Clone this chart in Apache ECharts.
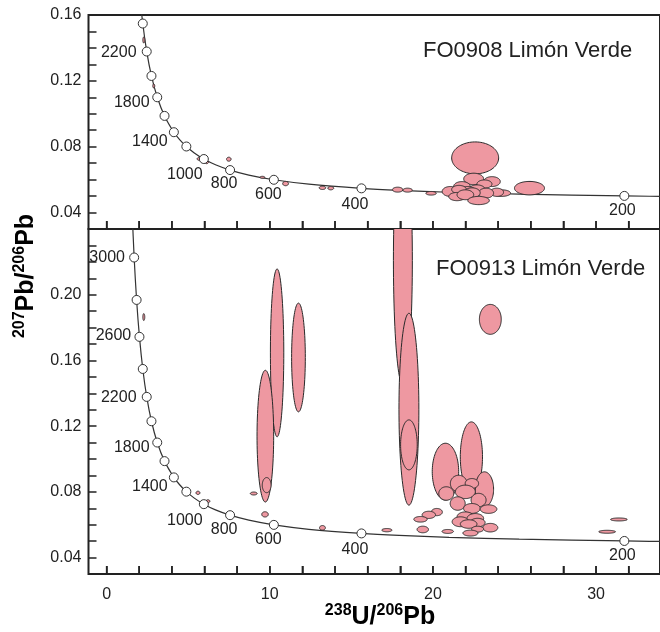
<!DOCTYPE html>
<html><head><meta charset="utf-8">
<script src="https://cdn.jsdelivr.net/npm/echarts@6/dist/echarts.min.js"></script>
<style>html,body{margin:0;padding:0;background:#fff}#c{width:660px;height:632px}</style>
</head><body><div id="c"></div>
<script>
// ---- Concordia (Tera-Wasserburg) curve values ----
const concordiaAge = [180,200,250,300,350,400,500,600,700,800,900,1000,1100,1200,1300,1400,1600,1800,2000,2200,2400,2600,2800,3000,3200];
const concordiaX = [35.316,31.735,25.289,20.992,17.923,15.621,12.399,10.252,8.718,7.568,6.674,5.960,5.375,4.888,4.476,4.123,3.550,3.104,2.749,2.459,2.217,2.013,1.838,1.688,1.556];
const concordiaY = [0.04968,0.05011,0.05120,0.05234,0.05350,0.05470,0.05722,0.05990,0.06276,0.06580,0.06904,0.07251,0.07619,0.08012,0.08432,0.08880,0.09871,0.11002,0.12298,0.13781,0.15481,0.17435,0.19683,0.22265,0.25242];
const markerAges = [200,400,600,800,1000,1200,1400,1600,1800,2000,2200,2400,2600,2800,3000];
const labelAgesTop = [200,400,600,800,1000,1400,1800,2200];
const labelAgesBottom = [200,400,600,800,1000,1400,1800,2200,2600,3000];

// ---- Axis ticks / labels ----
const xTicks = [0,2,4,6,8,10,12,14,16,18,20,22,24,26,28,30,32];
const xLabels = [0,10,20,30];
const yTicksTop = [0.04,0.05,0.06,0.07,0.08,0.09,0.10,0.11,0.12,0.13,0.14,0.15];
const yLabelsTop = [0.04,0.08,0.12,0.16];
const yTicksBottom = [0.04,0.05,0.06,0.07,0.08,0.09,0.10,0.11,0.12,0.13,0.14,0.15,0.16,0.17,0.18,0.19,0.20,0.21,0.22,0.23];
const yLabelsBottom = [0.04,0.08,0.12,0.16,0.20];

// ---- FO0908 error ellipses: centre (x, y) and half-axes (sx, sy) ----
const fo0908X  = [22.59,25.92,22.50,23.62,23.16,21.78,24.21,23.92,22.70,21.06,22.13,23.26,21.60,22.40,21.48,21.99,22.80,17.84,18.45,19.89,5.67,6.13,7.49,9.55,10.97,13.23,13.74,2.28,2.89];
const fo0908Y  = [0.0732,0.0548,0.0604,0.0588,0.0573,0.0558,0.0518,0.0523,0.0538,0.0528,0.0533,0.0518,0.0540,0.0520,0.0497,0.0508,0.0473,0.0539,0.0536,0.0517,0.0726,0.0706,0.0724,0.0614,0.0576,0.0550,0.0548,0.1448,0.1169];
const fo0908SX = [1.44,0.92,0.61,0.51,0.46,0.51,0.55,0.41,0.51,0.49,0.46,0.46,0.45,0.50,0.51,0.51,0.66,0.32,0.29,0.32,0.12,0.12,0.14,0.15,0.18,0.20,0.18,0.06,0.06];
const fo0908SY = [0.0097,0.0041,0.0035,0.0030,0.0025,0.0030,0.0020,0.0025,0.0030,0.0030,0.0025,0.0030,0.0025,0.0030,0.0025,0.0030,0.0025,0.0015,0.0012,0.0011,0.0009,0.0009,0.0012,0.0006,0.0013,0.0010,0.0010,0.0018,0.0012];

// ---- FO0913 error ellipses ----
const fo0913X  = [18.16,18.53,18.53,10.45,11.76,9.73,9.81,9.02,23.52,20.77,22.36,23.16,21.58,22.39,20.82,21.99,22.80,21.52,22.39,23.41,20.24,19.75,19.24,21.99,22.60,21.69,22.74,22.19,23.52,22.74,22.30,19.38,20.91,17.18,30.68,31.40,5.60,6.21,9.71,13.23,2.28];
const fo0913Y  = [0.2209,0.1303,0.1086,0.1646,0.1618,0.1139,0.0841,0.0790,0.1850,0.0923,0.1013,0.0816,0.0851,0.0851,0.0790,0.0800,0.0750,0.0729,0.0699,0.0695,0.0677,0.0660,0.0633,0.0648,0.0638,0.0618,0.0613,0.0604,0.0582,0.0573,0.0549,0.0571,0.0559,0.0567,0.0557,0.0632,0.0794,0.0743,0.0663,0.0581,0.1864];
const fo0913SX = [0.58,0.61,0.51,0.41,0.42,0.51,0.27,0.21,0.67,0.81,0.68,0.56,0.51,0.41,0.46,0.61,0.46,0.46,0.51,0.51,0.34,0.41,0.41,0.51,0.51,0.51,0.46,0.51,0.46,0.37,0.46,0.35,0.35,0.31,0.51,0.51,0.12,0.12,0.20,0.18,0.06];
const fo0913SY = [0.0760,0.0584,0.0152,0.0511,0.0331,0.0401,0.0046,0.0009,0.0091,0.0173,0.0213,0.0106,0.0050,0.0030,0.0041,0.0041,0.0041,0.0041,0.0030,0.0026,0.0022,0.0022,0.0017,0.0030,0.0030,0.0030,0.0026,0.0026,0.0026,0.0018,0.0018,0.0020,0.0012,0.0010,0.0009,0.0009,0.0010,0.0009,0.0016,0.0014,0.0021];

// ---- layout / style ----
const XMIN = -1.11, XMAX = 33.92, YMIN = 0.03;
const FILL = '#EE98A1', EDGE = '#2a2a2a', INK = '#222';
const FONT = '"Liberation Sans", Arial, Helvetica, sans-serif';
const labelOffset = {200:[-2,14.5],400:[-6.5,16],600:[-5.5,14.5],800:[-6,14],1000:[-19,16],1400:[-24,9.5],1800:[-25.5,5],2200:[-28,1],2600:[-26,-1],3000:[-27,0]};

function ellipseData(xs, ys, sxs, sys) {
  return xs.map((x, i) => [x, ys[i], sxs[i], sys[i]]);
}
function renderEllipse(params, api) {
  const cx = api.value(0), cy = api.value(1), ex = api.value(2), ey = api.value(3);
  const pts = [];
  const n = 90;
  for (let i = 0; i < n; i++) {
    const a = i / n * Math.PI * 2;
    pts.push(api.coord([cx + ex * Math.cos(a), cy + ey * Math.sin(a)]));
  }
  return {type: 'polygon', shape: {points: pts}, style: {fill: FILL, stroke: EDGE, lineWidth: 1}};
}
// x-axis tick marks drawn through the axis scale (inside, pointing up)
function renderXTick(params, api) {
  const p = api.coord([api.value(0), api.value(1)]);
  return {type: 'line', shape: {x1: p[0], y1: p[1], x2: p[0], y2: p[1] - 8}, style: {stroke: INK, lineWidth: 1.5}};
}
const tickData = xTicks.map(v => [v, YMIN]);
const curveData = concordiaX.map((x, i) => [x, concordiaY[i]]);
function markerData(ymax, labelled) {
  return markerAges.map(a => {
    const i = concordiaAge.indexOf(a);
    return {age: a, x: concordiaX[i], y: concordiaY[i]};
  }).filter(m => m.y <= ymax).map(m => ({
    name: String(m.age),
    value: [m.x, m.y],
    label: labelled.includes(m.age) ? {show: true, position: 'inside', offset: labelOffset[m.age]} : {show: false}
  }));
}

function xAxisCfg(grid, showLabels) {
  return {
    type: 'value', gridIndex: grid, min: XMIN, max: XMAX,
    axisLine: {show: false, onZero: false}, splitLine: {show: false},
    axisTick: {show: true, inside: true, length: 8, customValues: xTicks, lineStyle: {color: INK, width: 1.5}},
    axisLabel: {show: showLabels, customValues: xLabels, margin: 13, fontSize: 16, color: INK, fontFamily: FONT}
  };
}
function yAxisCfg(grid, max, ticks, labels) {
  return {
    type: 'value', gridIndex: grid, min: YMIN, max: max,
    axisLine: {show: false, onZero: false}, splitLine: {show: false},
    axisTick: {show: true, inside: true, length: 8, customValues: ticks, lineStyle: {color: INK, width: 1.5}},
    axisLabel: {show: true, customValues: labels, margin: 7, fontSize: 16, color: INK, fontFamily: FONT,
      formatter: v => v.toFixed(2)}
  };
}
const richTitle = {
  b: {fontSize: 25, fontWeight: 'bold', lineHeight: 28, fontFamily: FONT, color: INK},
  s: {fontSize: 16, fontWeight: 'bold', lineHeight: 16, verticalAlign: 'top', fontFamily: FONT, color: INK}
};

const chart = echarts.init(document.getElementById('c'), null, {renderer: 'canvas'});
chart.setOption({
  animation: false,
  backgroundColor: '#fff',
  grid: [
    {left: 88.5, right: -2, top: 15, height: 214, show: true, borderColor: INK, borderWidth: 2, backgroundColor: 'transparent'},
    {left: 88.5, right: -2, top: 229, height: 345, show: true, borderColor: INK, borderWidth: 2, backgroundColor: 'transparent'}
  ],
  xAxis: [xAxisCfg(0, false), xAxisCfg(1, true)],
  yAxis: [yAxisCfg(0, 0.16, yTicksTop, yLabelsTop), yAxisCfg(1, 0.24, yTicksBottom, yLabelsBottom)],
  series: [
    {type: 'line', xAxisIndex: 0, yAxisIndex: 0, data: curveData, smooth: 0.3, showSymbol: false, clip: true,
      lineStyle: {color: '#333', width: 1.2}, z: 2},
    {type: 'line', xAxisIndex: 1, yAxisIndex: 1, data: curveData, smooth: 0.3, showSymbol: false, clip: true,
      lineStyle: {color: '#333', width: 1.2}, z: 2},
    {type: 'custom', xAxisIndex: 0, yAxisIndex: 0, clip: false, renderItem: renderXTick, data: tickData, z: 5, silent: true},
    {type: 'custom', xAxisIndex: 1, yAxisIndex: 1, clip: false, renderItem: renderXTick, data: tickData, z: 5, silent: true},
    {type: 'custom', xAxisIndex: 0, yAxisIndex: 0, clip: true, renderItem: renderEllipse,
      data: ellipseData(fo0908X, fo0908Y, fo0908SX, fo0908SY), z: 3},
    {type: 'custom', xAxisIndex: 1, yAxisIndex: 1, clip: true, renderItem: renderEllipse,
      data: ellipseData(fo0913X, fo0913Y, fo0913SX, fo0913SY), z: 3},
    {type: 'scatter', xAxisIndex: 0, yAxisIndex: 0, symbol: 'circle', symbolSize: 9, z: 4,
      itemStyle: {color: '#fff', borderColor: '#333', borderWidth: 1, opacity: 1},
      label: {formatter: '{b}', fontSize: 16, color: INK, fontFamily: FONT},
      data: markerData(0.16, labelAgesTop)},
    {type: 'scatter', xAxisIndex: 1, yAxisIndex: 1, symbol: 'circle', symbolSize: 9, z: 4,
      itemStyle: {color: '#fff', borderColor: '#333', borderWidth: 1, opacity: 1},
      label: {formatter: '{b}', fontSize: 16, color: INK, fontFamily: FONT},
      data: markerData(0.24, labelAgesBottom)}
  ],
  graphic: [
    {type: 'text', x: 423, y: 51, z: 10, style: {text: 'FO0908 Limón Verde', font: '22px ' + FONT, fill: INK, verticalAlign: 'middle'}},
    {type: 'text', x: 436, y: 269, z: 10, style: {text: 'FO0913 Limón Verde', font: '22px ' + FONT, fill: INK, verticalAlign: 'middle'}},
    {type: 'text', x: 380, y: 617, z: 10, style: {text: '{s|238}{b|U/}{s|206}{b|Pb}', rich: richTitle, align: 'center', verticalAlign: 'middle'}},
    {type: 'text', x: 26, y: 276, rotation: Math.PI / 2, z: 10, style: {text: '{s|207}{b|Pb/}{s|206}{b|Pb}', rich: richTitle, align: 'center', verticalAlign: 'middle'}}
  ]
});
</script></body></html>
